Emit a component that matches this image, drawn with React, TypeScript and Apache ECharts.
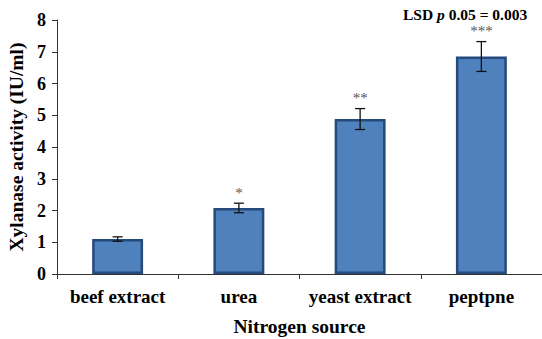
import React, { useEffect, useRef } from "react";
import * as echarts from "echarts";

const categories = ["beef extract", "urea", "yeast extract", "peptpne"];
const values = [1.1, 2.08, 4.88, 6.85];
const errors = [0.07, 0.15, 0.33, 0.47];
const stars = ["", "*", "**", "***"];
const yTicks = { min: 0, max: 8, interval: 1 };

const FONT = "Liberation Serif";

export default function App() {
  const ref = useRef<HTMLDivElement>(null);
  useEffect(() => {
    const chart = echarts.init(ref.current!, null, { renderer: "svg" });
    chart.setOption({
      animation: false,
      textStyle: { fontFamily: FONT },
      grid: { left: 57, right: 0, top: 20, bottom: 65, containLabel: false, outerBoundsMode: "none" },
      xAxis: {
        type: "category",
        data: categories,
        boundaryGap: true,
        axisLine: { lineStyle: { color: "#333", width: 1 } },
        axisTick: { show: true, alignWithLabel: false, length: 5, lineStyle: { color: "#333" } },
        axisLabel: { interval: 0, color: "#000", fontFamily: FONT, fontWeight: "bold", fontSize: 19, margin: 13 },
        name: "Nitrogen source",
        nameLocation: "middle",
        nameGap: 42,
        nameMoveOverlap: false,
        nameTextStyle: { color: "#000", fontFamily: FONT, fontWeight: "bold", fontSize: 19.5 },
      },
      yAxis: {
        type: "value",
        min: yTicks.min,
        max: yTicks.max,
        interval: yTicks.interval,
        splitLine: { show: false },
        axisLine: { show: true, lineStyle: { color: "#333", width: 1 } },
        axisTick: { show: true, length: 5, lineStyle: { color: "#333" } },
        axisLabel: { color: "#000", fontFamily: FONT, fontWeight: "bold", fontSize: 18, margin: 11 },
        name: "Xylanase activity (IU/ml)",
        nameLocation: "middle",
        nameGap: 31,
        nameMoveOverlap: false,
        nameTextStyle: { color: "#000", fontFamily: FONT, fontWeight: "bold", fontSize: 19.5 },
      },
      series: [
        {
          type: "bar",
          data: values,
          barWidth: "42%",
          itemStyle: { color: "#4F81BD", borderColor: "#254A7C", borderWidth: 2.5 },
        },
        {
          type: "custom",
          data: values.map((v, i) => [i, v - errors[i], v + errors[i], stars[i]]),
          renderItem: (params: any, api: any) => {
            const i = api.value(0);
            const lo = api.coord([i, api.value(1)]);
            const hi = api.coord([i, api.value(2)]);
            const x = lo[0];
            const cap = 5;
            const style = { stroke: "#111", lineWidth: 1.3 };
            const label = stars[params.dataIndex];
            const children: any[] = [
              { type: "line", shape: { x1: x, y1: lo[1], x2: x, y2: hi[1] }, style },
              { type: "line", shape: { x1: x - cap, y1: lo[1], x2: x + cap, y2: lo[1] }, style },
              { type: "line", shape: { x1: x - cap, y1: hi[1], x2: x + cap, y2: hi[1] }, style },
            ];
            if (label) {
              children.push({
                type: "text",
                style: {
                  text: label,
                  x: x,
                  y: hi[1] - 3,
                  align: "center",
                  verticalAlign: "bottom",
                  fill: "#555",
                  fontFamily: FONT,
                  fontSize: 15,
                },
              });
            }
            return { type: "group", children };
          },
          z: 5,
        },
      ],
      graphic: [
        {
          type: "text",
          left: 403,
          top: 6,
          style: {
            rich: {
              b: { fontFamily: FONT, fontWeight: "bold", fontSize: 15.5, fill: "#000" },
              i: { fontFamily: FONT, fontWeight: "bold", fontStyle: "italic", fontSize: 15.5, fill: "#000" },
            },
            text: "{b|LSD }{i|p}{b| 0.05 = 0.003}",
          },
        },
      ],
    });
    return () => chart.dispose();
  }, []);
  return (
    <div style={{ position: "absolute", left: 0, top: 0, width: 542, height: 339 }}>
      <div ref={ref} style={{ width: 542, height: 339 }} />
    </div>
  );
}
